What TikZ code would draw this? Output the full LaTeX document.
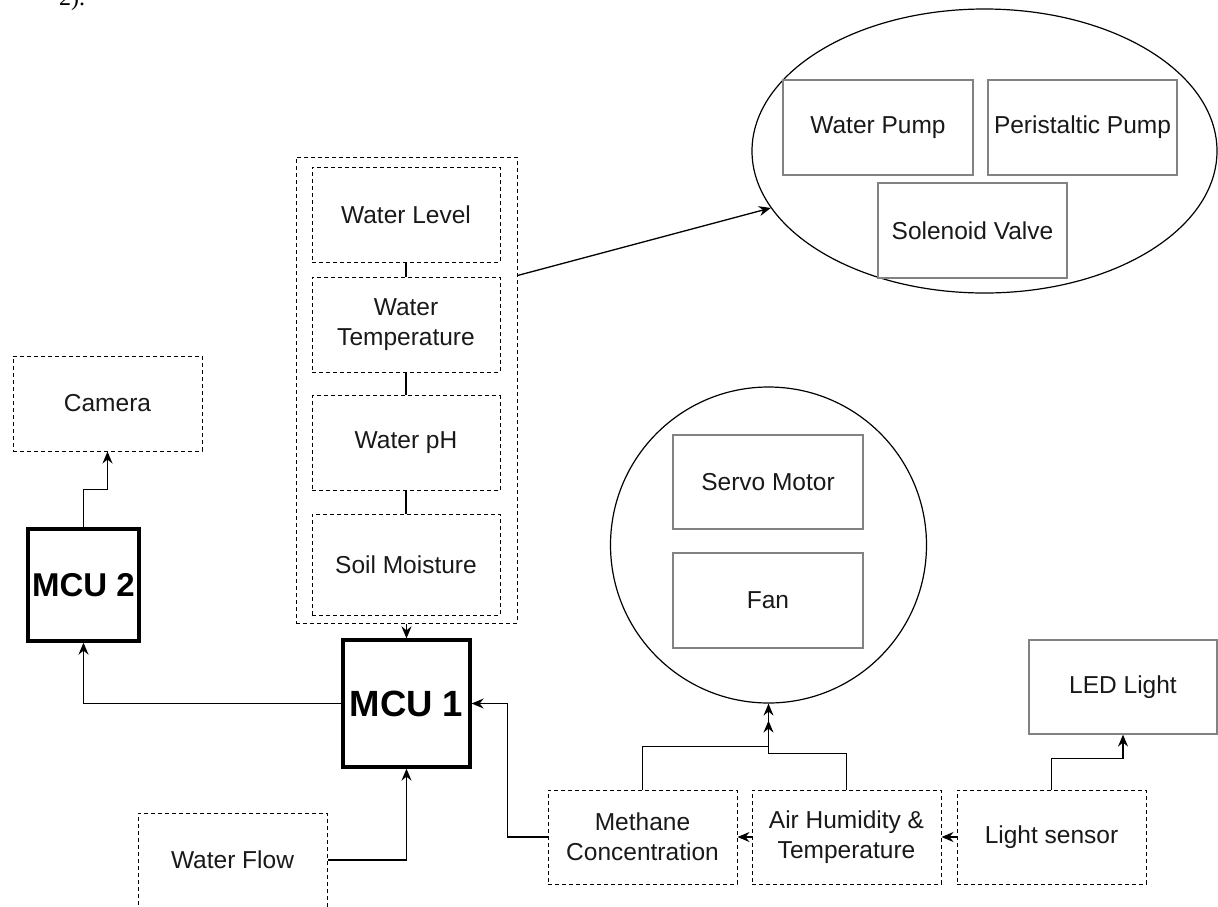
\documentclass[tikz,border=0pt]{standalone}
\usepackage{fontspec}
\setmainfont{Liberation Sans}
\newfontfamily\docserif{Liberation Serif}
\usetikzlibrary{arrows.meta,shapes.geometric,calc}
\definecolor{boxgray}{RGB}{130,130,130}
\definecolor{txt}{RGB}{25,25,25}
\tikzset{
  lbl/.style={font=\fontsize{24.5}{30}\selectfont, text=txt, align=center},
  dbox/.style={lbl, draw=black, line width=1pt, dash pattern=on 4pt off 3pt,
               minimum width=189pt, minimum height=95pt, inner sep=0pt},
  gbox/.style={lbl, draw=boxgray, line width=1.2pt,
               minimum width=189pt, minimum height=95pt, inner sep=0pt},
  mcubox/.style={draw=black, line width=3.3pt, inner sep=0pt, text=black},
  conn/.style={line width=1.3pt, -{Stealth[length=12pt,width=10pt,inset=4pt]}},
  link/.style={line width=1.3pt},
}
\begin{document}
\begin{tikzpicture}[x=1pt,y=-1pt]
\useasboundingbox (0,0) rectangle (1218,906);
\clip (0,0) rectangle (1218,906);

% stray caption text from the page
\node[anchor=base west, inner sep=0pt, font=\docserif\fontsize{24}{28}\selectfont] (cap) at (59,5) {2).};

% sensor group
\node[draw=black, line width=1pt, dash pattern=on 4pt off 3pt, minimum width=221pt, minimum height=466pt, inner sep=0pt] (grp) at (406.5,390) {};
\node[dbox, minimum width=188pt, minimum height=95pt] (wl) at (406,214.5) {Water Level};
\node[dbox, minimum width=188pt, minimum height=95pt] (wt) at (406,324.5) {Water\\Temperature};
\node[dbox, minimum width=188pt, minimum height=95pt] (wph) at (406,443) {Water pH};
\node[dbox, minimum width=188pt, minimum height=101pt] (sm) at (406,564.5) {Soil Moisture};
\draw[link] (wl.south) -- (wt.north);
\draw[link] (wt.south) -- (wph.north);
\draw[link] (wph.south) -- (sm.north);

% controllers
\node[mcubox, minimum width=111pt, minimum height=112pt, font=\bfseries\fontsize{33}{36}\selectfont] (mcu2) at (83.5,585) {MCU 2};
\node[mcubox, minimum width=127pt, minimum height=127pt, font=\bfseries\fontsize{36.5}{40}\selectfont] (mcu1) at (406.5,703.5) {MCU 1};

% other sensors / devices
\node[dbox] (camera) at (107.5,403.5) {Camera};
\node[dbox, minimum height=94pt] (wflow) at (232.5,860) {Water Flow};
\node[dbox, minimum height=94pt] (meth) at (642.5,837) {Methane\\Concentration};
\node[dbox, minimum height=94pt] (air) at (846.5,837) {Air Humidity \&\\Temperature};
\node[dbox, minimum height=94pt] (light) at (1051.5,837) {Light sensor};
\node[gbox, minimum width=188pt, minimum height=94pt] (led) at (1123,687) {LED Light};

% actuator group: servo / fan
\node[circle, draw=black, line width=1.2pt, minimum size=316pt, inner sep=0pt] (circ) at (768.5,545) {};
\node[gbox, minimum width=190pt, minimum height=94pt] (servo) at (768,482) {Servo Motor};
\node[gbox, minimum width=190pt, minimum height=95pt] (fan) at (768,600.5) {Fan};

% actuator group: pumps / valve
\node[ellipse, draw=black, line width=1.2pt, minimum width=465pt, minimum height=284pt, inner sep=0pt] (ell) at (984.5,151) {};
\node[gbox, minimum width=190pt, minimum height=95pt] (wpump) at (878,127.5) {Water Pump};
\node[gbox, minimum width=189pt, minimum height=95pt] (ppump) at (1082.5,127.5) {Peristaltic Pump};
\node[gbox, minimum width=189pt, minimum height=95pt] (sol) at (972.5,230.5) {Solenoid Valve};

% connectors
\coordinate (grpout) at ($(grp.north east)+(0,119)$);
\draw[conn] (grpout) -- (ell);
\draw[conn] (grp.south) -- (mcu1.north);
\draw[conn] (mcu2.north) -- ++(0,-38) -| (camera.south);
\draw[conn] (mcu1.west) -| (mcu2.south);
\draw[conn] (wflow.east) -| (mcu1.south);
\draw[conn] (meth.west) -- ++(-40,0) |- (mcu1.east);
\coordinate (circin) at ($(circ.south)+(0,17)$);
\draw[conn] (meth.north) -- ++(0,-43) -| (circ.south);
\draw[conn] (air.north) -- ++(0,-36) -| (circin);
\draw[conn] (air.west) -- (meth.east);
\draw[conn] (light.west) -- (air.east);
\draw[conn] (light.north) -- ++(0,-31) -| (led.south);
\end{tikzpicture}
\end{document}
